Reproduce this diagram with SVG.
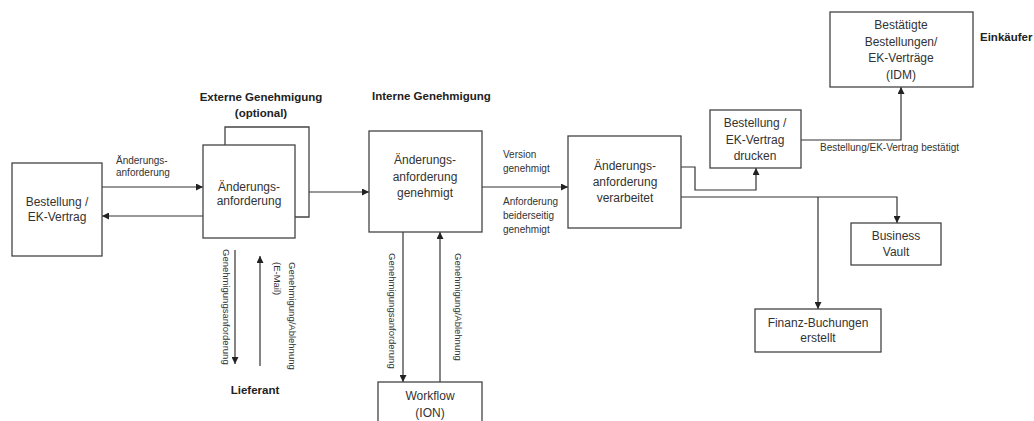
<svg xmlns="http://www.w3.org/2000/svg" width="1034" height="421" viewBox="0 0 1034 421">
<defs>
<style>
.box{fill:#fff;stroke:#444;stroke-width:1.3}
.ln{fill:none;stroke:#333;stroke-width:1.2}
.t{font-family:"Liberation Sans",Arial,sans-serif;font-size:12px;fill:#333;text-anchor:middle}
.s{font-family:"Liberation Sans",Arial,sans-serif;font-size:10px;fill:#333}
.r{font-family:"Liberation Sans",Arial,sans-serif;font-size:9.5px;fill:#333}
.b{font-family:"Liberation Sans",Arial,sans-serif;font-size:11.5px;font-weight:bold;fill:#222}
</style>
<marker id="ah" viewBox="0 0 10 10" refX="10" refY="5" markerWidth="7" markerHeight="7" orient="auto" markerUnits="userSpaceOnUse">
<path d="M0,0 L10,5 L0,10 z" fill="#222"/>
</marker>
</defs>
<rect width="1034" height="421" fill="#fff"/>

<g id="titles">
<text class="b" x="261" y="101" text-anchor="middle">Externe Genehmigung</text>
<text class="b" x="261" y="117" text-anchor="middle">(optional)</text>
<text class="b" x="372" y="100">Interne Genehmigung</text>
<text class="b" x="980" y="41">Einkäufer</text>
<text class="b" x="255" y="394" text-anchor="middle">Lieferant</text>
</g>

<g id="connectors">
<path class="ln" d="M102,187 H203" marker-end="url(#ah)"/>
<path class="ln" d="M203,216 H102" marker-end="url(#ah)"/>
<path class="ln" d="M295,192 H369" marker-end="url(#ah)"/>
<path class="ln" d="M482,187 H568" marker-end="url(#ah)"/>
<path class="ln" d="M681,167 H695 V190 H756 V168" marker-end="url(#ah)"/>
<path class="ln" d="M801,140 H901 V87" marker-end="url(#ah)"/>
<path class="ln" d="M681,197 H897 V223" marker-end="url(#ah)"/>
<path class="ln" d="M818,197 V309" marker-end="url(#ah)"/>
<path class="ln" d="M403,232 V382" marker-end="url(#ah)"/>
<path class="ln" d="M440,382 V232" marker-end="url(#ah)"/>
<path class="ln" d="M235,250 V364" marker-end="url(#ah)"/>
<path class="ln" d="M260,366 V256" marker-end="url(#ah)"/>
</g>

<g id="connector-labels">
<text class="s" x="116" y="164">Änderungs-</text>
<text class="s" x="116" y="176">anforderung</text>
<text class="s" x="503" y="158">Version</text>
<text class="s" x="503" y="172">genehmigt</text>
<text class="s" x="503" y="205">Anforderung</text>
<text class="s" x="503" y="219">beiderseitig</text>
<text class="s" x="503" y="233">genehmigt</text>
<text class="s" x="820" y="151">Bestellung/EK-Vertrag bestätigt</text>
<text class="r" transform="translate(223,249) rotate(90)">Genehmigungsanforderung</text>
<text class="r" transform="translate(289,262) rotate(90)">Genehmigung/Ablehnung</text>
<text class="r" transform="translate(274,262) rotate(90)">(E-Mail)</text>
<text class="r" transform="translate(389,253) rotate(90)">Genehmigungsanforderung</text>
<text class="r" transform="translate(455,253) rotate(90)">Genehmigung/Ablehnung</text>
</g>

<g id="bestellung">
<rect class="box" x="12" y="163" width="90" height="93"/>
<text class="t" x="57" y="206">Bestellung /</text>
<text class="t" x="57" y="221">EK-Vertrag</text>
</g>

<g id="externe-anforderung">
<path class="box" d="M225,145 V127 H309 V217 H295"/>
<rect class="box" x="203" y="145" width="92" height="93"/>
<text class="t" x="249" y="191">Änderungs-</text>
<text class="t" x="249" y="205">anforderung</text>
</g>

<g id="interne-genehmigt">
<rect class="box" x="369" y="131" width="113" height="101"/>
<text class="t" x="425" y="164">Änderungs-</text>
<text class="t" x="425" y="181">anforderung</text>
<text class="t" x="425" y="197">genehmigt</text>
</g>

<g id="workflow">
<rect class="box" x="378" y="382" width="104" height="50"/>
<text class="t" x="430" y="400">Workflow</text>
<text class="t" x="430" y="417">(ION)</text>
</g>

<g id="verarbeitet">
<rect class="box" x="568" y="136" width="113" height="92"/>
<text class="t" x="625" y="170">Änderungs-</text>
<text class="t" x="625" y="186">anforderung</text>
<text class="t" x="625" y="202">verarbeitet</text>
</g>

<g id="drucken">
<rect class="box" x="710" y="110" width="91" height="58"/>
<text class="t" x="755" y="127">Bestellung /</text>
<text class="t" x="755" y="144">EK-Vertrag</text>
<text class="t" x="755" y="160">drucken</text>
</g>

<g id="idm">
<rect class="box" x="830" y="12" width="143" height="75"/>
<text class="t" x="901" y="29">Bestätigte</text>
<text class="t" x="901" y="46">Bestellungen/</text>
<text class="t" x="901" y="62">EK-Verträge</text>
<text class="t" x="901" y="79">(IDM)</text>
</g>

<g id="business-vault">
<rect class="box" x="851" y="223" width="90" height="42"/>
<text class="t" x="896" y="240">Business</text>
<text class="t" x="896" y="256">Vault</text>
</g>

<g id="finanz">
<rect class="box" x="755" y="309" width="126" height="43"/>
<text class="t" x="818" y="327">Finanz-Buchungen</text>
<text class="t" x="818" y="342">erstellt</text>
</g>
</svg>
